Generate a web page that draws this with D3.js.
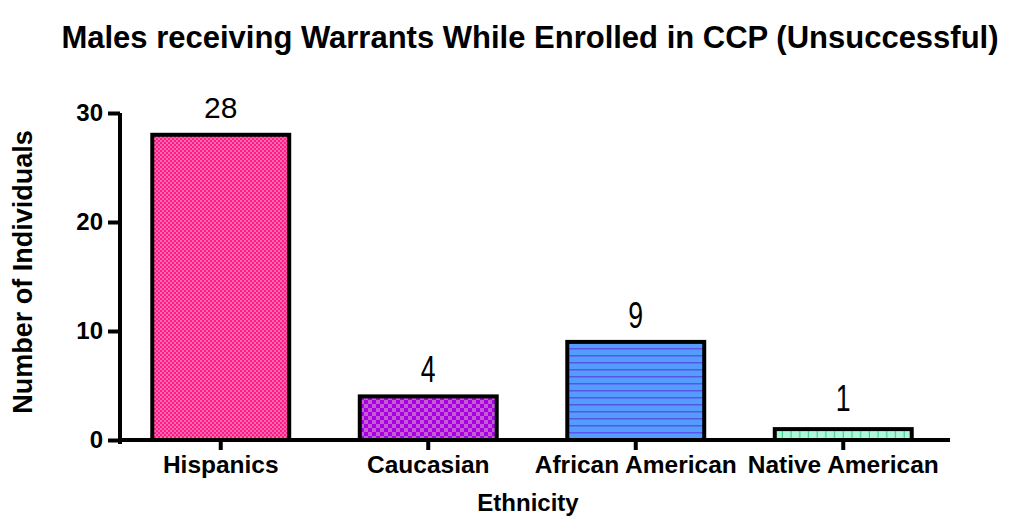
<!DOCTYPE html>
<html><head><meta charset="utf-8">
<script src="https://cdn.jsdelivr.net/npm/d3@7"></script>
<style>
html,body{margin:0;padding:0;background:#fff;}
svg{display:block;font-family:"Liberation Sans",Arial,sans-serif;}
</style></head>
<body><svg id="chart" width="1019" height="519"></svg>
<script>
const categories = ["Hispanics", "Caucasian", "African American", "Native American"];
const values = [28, 4, 9, 1];
const yTicks = [0, 10, 20, 30];
const title = "Males receiving Warrants While Enrolled in CCP (Unsuccessful)";
const xTitle = "Ethnicity";
const yTitle = "Number of Individuals";

const svg = d3.select("#chart");
const defs = svg.append("defs");

function pat(id, w, h, base, draw) {
  const p = defs.append("pattern").attr("id", id).attr("patternUnits", "userSpaceOnUse")
    .attr("width", w).attr("height", h);
  p.append("rect").attr("width", w).attr("height", h).attr("fill", base);
  draw(p);
}
pat("p0", 4, 4, "#FF1A88", p => {
  p.append("rect").attr("x", 0).attr("y", 0).attr("width", 2).attr("height", 2).attr("fill", "#FF6AAE");
  p.append("rect").attr("x", 2).attr("y", 2).attr("width", 2).attr("height", 2).attr("fill", "#FF6AAE");
});
pat("p1", 8, 8, "#A800E0", p => {
  p.append("rect").attr("x", 0).attr("y", 0).attr("width", 4).attr("height", 4).attr("fill", "#C35AD6");
  p.append("rect").attr("x", 4).attr("y", 4).attr("width", 4).attr("height", 4).attr("fill", "#C35AD6");
});
pat("p2", 7, 7, "#559CFF", p => {
  p.append("rect").attr("x", 0).attr("y", 5).attr("width", 7).attr("height", 1.5).attr("fill", "#5A55E8");
});
pat("p3", 8.7, 8, "#AEF7DA", p => {
  p.append("rect").attr("x", 7.5).attr("y", 0).attr("width", 1.2).attr("height", 8).attr("fill", "#3FD293");
});
const fills = ["url(#p0)", "url(#p1)", "url(#p2)", "url(#p3)"];

const x = d3.scaleBand().domain(categories).range([117, 947]).paddingInner(0.34).paddingOuter(0.17);
const y = d3.scaleLinear().domain([0, 30]).range([440, 113]);

svg.append("g").selectAll("rect").data(categories).join("rect")
  .attr("x", d => x(d))
  .attr("y", (d, i) => y(values[i]))
  .attr("width", x.bandwidth())
  .attr("height", (d, i) => y(0) - y(values[i]))
  .attr("fill", (d, i) => fills[i])
  .attr("stroke", "#000").attr("stroke-width", 4);

svg.append("g").selectAll("text").data(categories).join("text")
  .attr("transform", (d, i) => {
    const cx = x(d) + x.bandwidth() / 2, cy = y(values[i]) - 14;
    return values[i] >= 10 ? `translate(${cx},${cy - 3})` : `translate(${cx},${cy - (values[i] < 2 ? 4 : 0)}) scale(0.72,1)`;
  })
  .attr("text-anchor", "middle")
  .attr("font-size", (d, i) => values[i] >= 10 ? 30 : 37)
  .attr("fill", "#000")
  .text((d, i) => values[i]);

const ya = svg.append("g").attr("transform", "translate(120,0)")
  .call(d3.axisLeft(y).tickValues(yTicks).tickSize(12).tickSizeOuter(0).tickPadding(5));
ya.select(".domain").attr("d", `M0,${y(30)}V${y(0) + 4}`).attr("stroke-width", 4).attr("stroke", "#000");
ya.selectAll(".tick line").attr("stroke-width", 4).attr("stroke", "#000");
ya.selectAll(".tick text").attr("font-size", 24).attr("font-weight", "bold").attr("fill", "#000")
  .attr("font-family", "Liberation Sans, Arial, sans-serif");

const xa = svg.append("g").attr("transform", `translate(0,${y(0)})`)
  .call(d3.axisBottom(x).tickSize(10).tickSizeOuter(0).tickPadding(6));
xa.select(".domain").attr("d", "M118,0H950").attr("stroke-width", 4).attr("stroke", "#000");
xa.selectAll(".tick line").attr("stroke-width", 4).attr("stroke", "#000");
xa.selectAll(".tick text").attr("font-size", 24.5).attr("font-weight", "bold").attr("fill", "#000")
  .attr("font-family", "Liberation Sans, Arial, sans-serif");

svg.append("text").attr("x", 530).attr("y", 48).attr("text-anchor", "middle")
  .attr("font-size", 31).attr("font-weight", "bold").text(title);
svg.append("text").attr("x", 528).attr("y", 511).attr("text-anchor", "middle")
  .attr("font-size", 24).attr("font-weight", "bold").text(xTitle);
svg.append("text").attr("transform", "translate(32,272) rotate(-90)").attr("text-anchor", "middle")
  .attr("font-size", 27).attr("font-weight", "bold").text(yTitle);
</script></body></html>
